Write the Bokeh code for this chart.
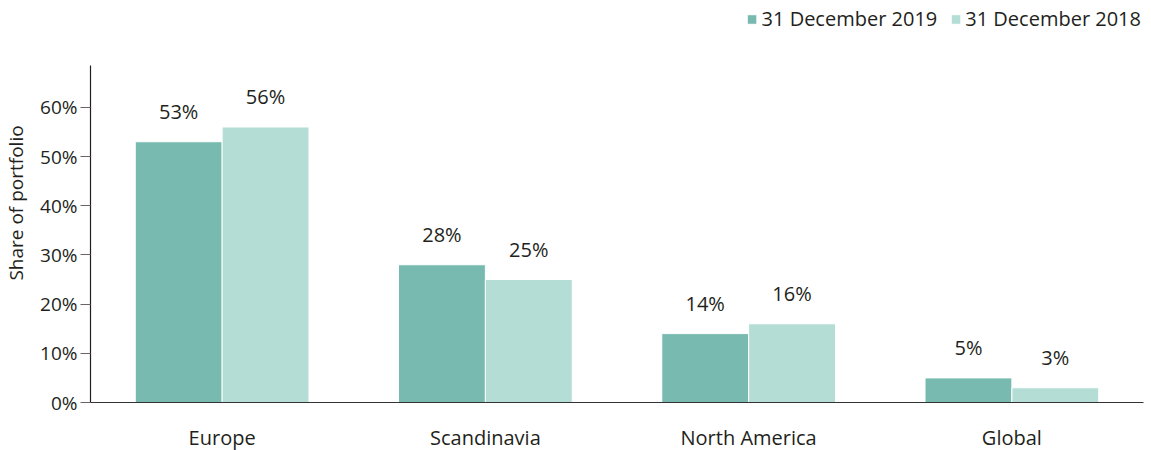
from bokeh.plotting import figure
from bokeh.models import ColumnDataSource, FixedTicker, Legend, LegendItem, LabelSet, Range1d
from bokeh.core.properties import value
from bokeh.transform import dodge
from bokeh.embed import file_html
from bokeh.resources import INLINE

categories = ["Europe", "Scandinavia", "North America", "Global"]
series_names = ["31 December 2019", "31 December 2018"]
values_2019 = [53, 28, 14, 5]
values_2018 = [56, 25, 16, 3]
y_ticks = [0, 10, 20, 30, 40, 50, 60]
y_tick_labels = ["0%", "10%", "20%", "30%", "40%", "50%", "60%"]
AXIS_TOP = 68.5   # where the drawn y axis line stops
VIEW_TOP = 81.1   # room above the axis for the legend

FONT = "Open Sans"
TXT = "#231f20"
C19 = "#78bab0"
C18 = "#b4ded5"

src = ColumnDataSource(dict(
    cat=categories,
    v19=values_2019,
    v18=values_2018,
    l19=[f"{v}%" for v in values_2019],
    l18=[f"{v}%" for v in values_2018],
))

p = figure(x_range=categories, y_range=Range1d(0, VIEW_TOP),
           frame_width=1053, frame_height=399,
           output_backend="svg", toolbar_location=None,
           min_border_left=87, min_border_right=5, min_border_bottom=40, min_border_top=3)
p.outline_line_color = None
p.grid.grid_line_color = None
p.x_range.range_padding = 0

W = 0.33
r19 = p.vbar(x=dodge("cat", -W / 2, range=p.x_range), top="v19", width=W, source=src,
             fill_color=C19, line_color="white", line_width=1)
r18 = p.vbar(x=dodge("cat", W / 2, range=p.x_range), top="v18", width=W, source=src,
             fill_color=C18, line_color="white", line_width=1)

for col, lab, off in (("v19", "l19", -W / 2), ("v18", "l18", W / 2)):
    ls = LabelSet(x=dodge("cat", off, range=p.x_range), y=col, text=lab, source=src,
                  y_offset=17, text_align="center", text_baseline="bottom",
                  text_font=value(FONT), text_font_size="20px", text_color=TXT)
    p.add_layout(ls)

# y axis
ya = p.yaxis[0]
ya.ticker = FixedTicker(ticks=y_ticks)
ya.major_label_overrides = {t: l for t, l in zip(y_ticks, y_tick_labels)}
ya.bounds = (0, AXIS_TOP)
ya.major_tick_out = 10
ya.major_tick_in = 0
ya.minor_tick_line_color = None
ya.major_tick_line_color = "#6b6462"
ya.axis_line_color = TXT
ya.axis_line_width = 1.2
ya.major_label_text_font = FONT
ya.major_label_text_font_size = "19px"
ya.major_label_text_color = TXT
ya.major_label_standoff = 3
ya.axis_label = "Share of portfolio"
ya.axis_label_text_font = FONT
ya.axis_label_text_font_style = "normal"
ya.axis_label_text_font_size = "19px"
ya.axis_label_text_color = TXT
ya.axis_label_standoff = 8

xa = p.xaxis[0]
xa.major_tick_line_color = None
xa.major_tick_out = 0
xa.major_tick_in = 0
xa.minor_tick_line_color = None
xa.axis_line_color = "#333333"
xa.axis_line_width = 1.2
xa.major_label_standoff = 21
xa.major_label_text_font = FONT
xa.major_label_text_font_size = "20px"
xa.major_label_text_color = TXT

legend = Legend(items=[LegendItem(label=series_names[0], renderers=[r19]),
                       LegendItem(label=series_names[1], renderers=[r18])],
                orientation="horizontal", location="top_right",
                label_text_font=FONT, label_text_font_size="20px", label_text_color=TXT,
                glyph_width=12, glyph_height=12, label_standoff=4, spacing=12,
                padding=0, margin=2, border_line_color=None, background_fill_alpha=0)
p.add_layout(legend, "center")

open("out.html", "w").write(file_html(p, INLINE))
